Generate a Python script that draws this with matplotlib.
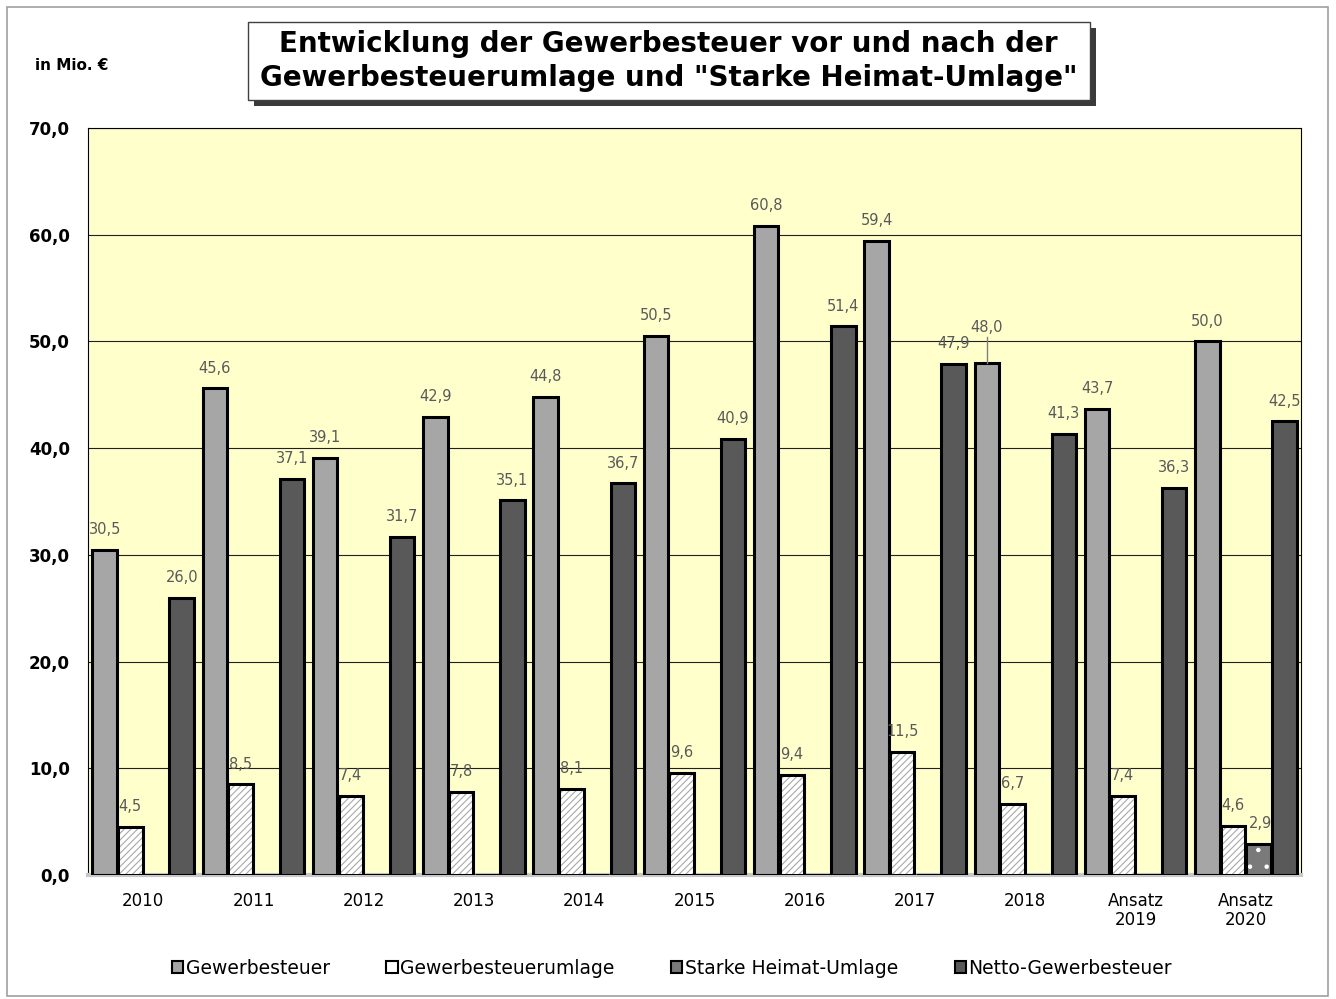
import matplotlib.pyplot as plt
import numpy as np
from matplotlib.patches import Rectangle, Patch

# Data
categories = ["2010", "2011", "2012", "2013", "2014", "2015", "2016", "2017", "2018",
              "Ansatz\n2019", "Ansatz\n2020"]
gewerbe = [30.5, 45.6, 39.1, 42.9, 44.8, 50.5, 60.8, 59.4, 48.0, 43.7, 50.0]
umlage = [4.5, 8.5, 7.4, 7.8, 8.1, 9.6, 9.4, 11.5, 6.7, 7.4, 4.6]
heimat = [0, 0, 0, 0, 0, 0, 0, 0, 0, 0, 2.9]
netto = [26.0, 37.1, 31.7, 35.1, 36.7, 40.9, 51.4, 47.9, 41.3, 36.3, 42.5]
yticks = [0, 10, 20, 30, 40, 50, 60, 70]

plt.rcParams['font.family'] = ['DejaVu Sans']
plt.rcParams['hatch.linewidth'] = 0.8

fig = plt.figure(figsize=(13.36, 9.99), dpi=100)
ax = fig.add_axes([0.0659, 0.1241, 0.9079, 0.7478])
ax.set_facecolor('#ffffcc')

x = np.arange(len(categories))
step = 0.233
w = 0.222
# (values, name, face colour, hatch, hatch colour)
series = [
    (gewerbe, "Gewerbesteuer", '#a6a6a6', None, None),
    (umlage, "Gewerbesteuerumlage", 'white', '/////', '#a8a8a8'),
    (heimat, "Starke Heimat-Umlage", '#7a7a7a', '.', 'white'),
    (netto, "Netto-Gewerbesteuer", '#595959', None, None),
]

ax.set_axisbelow(True)
ax.yaxis.grid(True, color='#202020', linewidth=0.8)

handles = []
for i, (vals, name, fc, hatch, hc) in enumerate(series):
    offs = (i - 1.5) * step
    # fill (and hatch, drawn in the hatch colour), then black outline on top
    ax.bar(x + offs, vals, width=w, facecolor=fc, hatch=hatch,
           edgecolor=hc if hc else fc, linewidth=0, zorder=3)
    ax.bar(x + offs, vals, width=w, facecolor='none', edgecolor='black',
           linewidth=2.2, zorder=3.5)
    handles.append(Patch(facecolor=fc, edgecolor='black', linewidth=1.5, label=name))
    for xi, v in zip(x + offs, vals):
        if v == 0:
            continue
        ytxt = v + 1.2
        xtxt = xi
        if name == "Gewerbesteuer" and v == 48.0:
            ytxt = v + 2.6
            ax.plot([xi, xi], [v, v + 2.4], color='#808080', lw=1, zorder=4)
        if name == "Starke Heimat-Umlage":
            xtxt = xi + 0.02
        ax.text(xtxt, ytxt, f"{v:.1f}".replace('.', ','),
                ha='center', va='bottom', fontsize=10.5, color='#595959', zorder=5)

ax.set_xlim(-0.5, len(categories) - 0.5)
ax.set_ylim(0, 70)
ax.set_yticks(yticks)
ax.set_yticklabels([f"{t:.1f}".replace('.', ',') for t in yticks],
                   fontsize=12, fontweight='bold')
ax.set_xticks(x)
ax.set_xticklabels(categories, fontsize=12, linespacing=1.1)
ax.tick_params(axis='both', length=0)
ax.tick_params(axis='y', pad=13)
ax.tick_params(axis='x', pad=12)
for s in ['left', 'right', 'top']:
    ax.spines[s].set_color('black')
    ax.spines[s].set_linewidth(0.8)
ax.spines['bottom'].set_color('#c8c8c8')
ax.spines['bottom'].set_linewidth(3)

# Legend
leg = fig.legend(handles=handles, loc='center', bbox_to_anchor=(0.503, 0.031), ncol=4,
                 frameon=False, fontsize=13.5, handlelength=0.6, handleheight=0.6,
                 handletextpad=0.15, columnspacing=3.0)

# Title box with shadow
bx, by, bw, bh = 0.1856, 0.8999, 0.630, 0.0781
fig.patches.append(Rectangle((bx + 0.0045, by - 0.006), bw, bh, transform=fig.transFigure,
                             facecolor='#3a3a3a', edgecolor='none', zorder=1))
fig.patches.append(Rectangle((bx, by), bw, bh, transform=fig.transFigure,
                             facecolor='white', edgecolor='#404040', linewidth=1, zorder=2))
fig.text(bx + bw / 2, by + bh / 2,
         "Entwicklung der Gewerbesteuer vor und nach der\nGewerbesteuerumlage und \"Starke Heimat-Umlage\"",
         ha='center', va='center', fontsize=20, fontweight='bold', linespacing=1.25, zorder=3)

fig.text(0.026, 0.934, "in Mio. €", fontsize=11, fontweight='bold', ha='left', va='center')

# Outer frame
fig.patches.append(Rectangle((0.005, 0.003), 0.989, 0.99, transform=fig.transFigure,
                             facecolor='none', edgecolor='#a0a0a0', linewidth=1.2))

fig.savefig('out.png', dpi=100)
